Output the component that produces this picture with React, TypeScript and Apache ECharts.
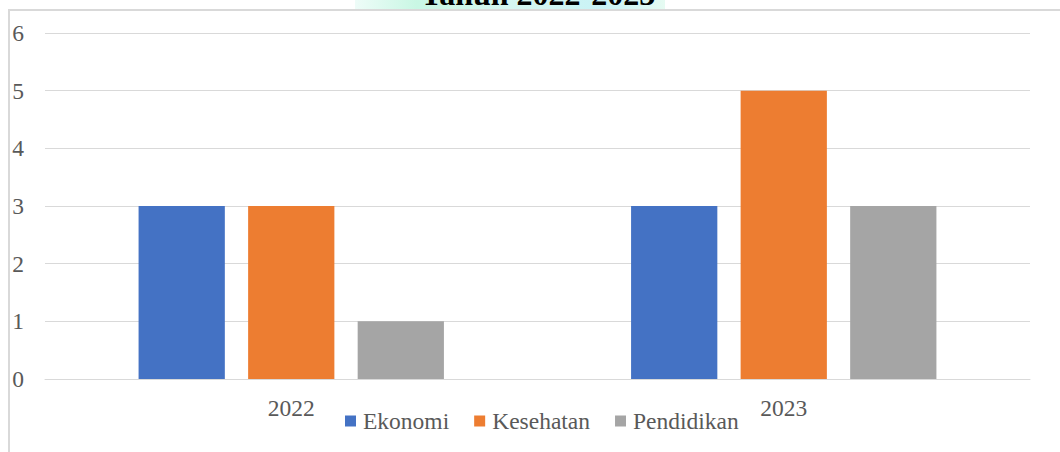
import React, { useEffect, useRef } from "react";
import * as echarts from "echarts";

const categories = ["2022", "2023"];
const seriesNames = ["Ekonomi", "Kesehatan", "Pendidikan"];
const ekonomi = [3, 3];
const kesehatan = [3, 5];
const pendidikan = [1, 3];
const yTicks = [0, 1, 2, 3, 4, 5, 6];
const titleText = "Tahun 2022-2023";
const colors = ["#4472C4", "#ED7D31", "#A5A5A5"];

const FONT = "'Liberation Serif', 'Times New Roman', serif";
const FS = 23.5;

export default function App() {
  const ref = useRef<HTMLDivElement>(null);
  useEffect(() => {
    if (!ref.current) return;
    const chart = echarts.init(ref.current, undefined, { renderer: "svg" });
    const values = [ekonomi, kesehatan, pendidikan];
    chart.setOption({
      animation: false,
      color: colors,
      textStyle: { fontFamily: FONT },
      grid: { left: 45, right: 30, top: 33, bottom: 73, containLabel: false },
      legend: {
        data: seriesNames,
        left: 345,
        top: 409,
        padding: 0,
        itemWidth: 11,
        itemHeight: 11,
        itemGap: 25,
        icon: "rect",
        textStyle: { fontFamily: FONT, fontSize: FS, color: "#595959", padding: [0, 0, 0, 2] },
      },
      xAxis: {
        type: "category",
        data: categories,
        axisLine: { lineStyle: { color: "#D9D9D9", width: 1 } },
        axisTick: { show: false },
        axisLabel: { fontFamily: FONT, fontSize: FS, color: "#595959", margin: 17 },
      },
      yAxis: {
        type: "value",
        min: yTicks[0],
        max: yTicks[yTicks.length - 1],
        interval: 1,
        axisLine: { show: false },
        axisTick: { show: false },
        splitLine: { lineStyle: { color: "#D9D9D9", width: 1 } },
        axisLabel: { fontFamily: FONT, fontSize: FS, color: "#595959", margin: 21 },
      },
      series: seriesNames.map((name, i) => ({
        name,
        type: "bar",
        data: values[i],
        barCategoryGap: "38%",
        barGap: "27%",
      })),
      graphic: [
        {
          type: "rect",
          silent: true,
          z: 100,
          shape: { x: 9, y: 10, width: 1100, height: 500 },
          style: { fill: "none", stroke: "#D9D9D9", lineWidth: 2 },
        },
        {
          type: "rect",
          silent: true,
          z: 99,
          shape: { x: 355, y: 0, width: 310, height: 9 },
          style: {
            fill: new echarts.graphic.LinearGradient(0, 0, 1, 0, [
              { offset: 0, color: "#eefcf8" },
              { offset: 0.2, color: "#c9f7e4" },
              { offset: 0.5, color: "#d6f6f0" },
              { offset: 0.8, color: "#c9f3f6" },
              { offset: 1, color: "#e6fbf2" },
            ]),
          },
        },
        {
          type: "text",
          silent: true,
          z: 101,
          x: 538,
          y: -6,
          style: {
            text: titleText,
            font: `bold 32px ${FONT}`,
            fill: "#000000",
            align: "center",
            verticalAlign: "middle",
          },
        },
      ],
    });
    return () => chart.dispose();
  }, []);
  return (
    <div
      ref={ref}
      style={{ position: "fixed", left: 0, top: 0, width: 1060, height: 452, background: "#fff" }}
    />
  );
}
